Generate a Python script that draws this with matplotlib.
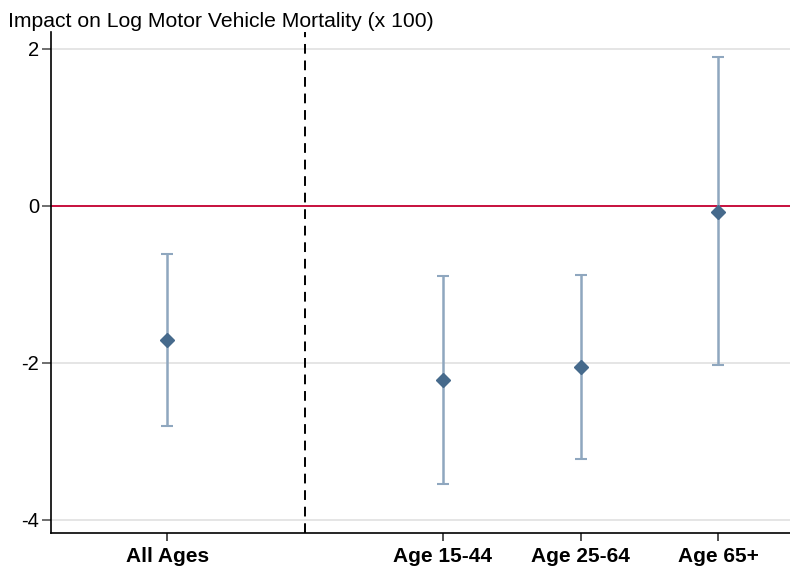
import matplotlib.pyplot as plt

plt.rcParams['font.family'] = ['Liberation Sans', 'DejaVu Sans']

labels = ['All Ages', 'Age 15-44', 'Age 25-64', 'Age 65+']
positions = [1, 3, 4, 5]
estimates = [-1.71, -2.22, -2.05, -0.08]
ci_low = [-2.80, -3.54, -3.23, -2.03]
ci_high = [-0.62, -0.89, -0.88, 1.89]
divider = 2

fig = plt.figure(figsize=(7.9, 5.69), dpi=100)
ax = fig.add_axes([0.0642, 0.0627, 0.9358, 0.881])

err_lo = [e - l for e, l in zip(estimates, ci_low)]
err_hi = [h - e for e, h in zip(estimates, ci_high)]
ax.errorbar(positions, estimates, yerr=[err_lo, err_hi], fmt='none',
            ecolor='#8fa7bf', elinewidth=1.8, capsize=4, capthick=1.5, zorder=3)
ax.plot(positions, estimates, 'D', color='#466a8c', markersize=7, zorder=4)

ax.axhline(0, color='#c8103e', linewidth=1.4, zorder=2)
ax.axvline(divider, color='black', linestyle=(0, (5, 3.5)), linewidth=1.4, zorder=2)

ax.set_xlim(0.155, 5.52)
ax.set_ylim(-4.17, 2.21)
ax.set_yticks([-4, -2, 0, 2])
ax.set_yticklabels(['-4', '-2', '0', '2'], fontsize=14.5)
ax.set_xticks(positions)
ax.set_xticklabels(labels, fontsize=15, fontweight='bold')
ax.grid(axis='y', color='#e0e0e0', linewidth=1.2)
ax.set_axisbelow(True)

ax.tick_params(axis='y', length=6.5, color='#555555', width=1.2, pad=2)
ax.tick_params(axis='x', length=5.5, color='#333333', width=1.2, pad=4)
for side in ['top', 'right']:
    ax.spines[side].set_visible(False)
for side in ['left', 'bottom']:
    ax.spines[side].set_linewidth(1.2)

fig.text(0.010, 0.963, 'Impact on Log Motor Vehicle Mortality (x 100)',
         fontsize=15.2, va='center', ha='left')

fig.savefig('out.png', dpi=100)
